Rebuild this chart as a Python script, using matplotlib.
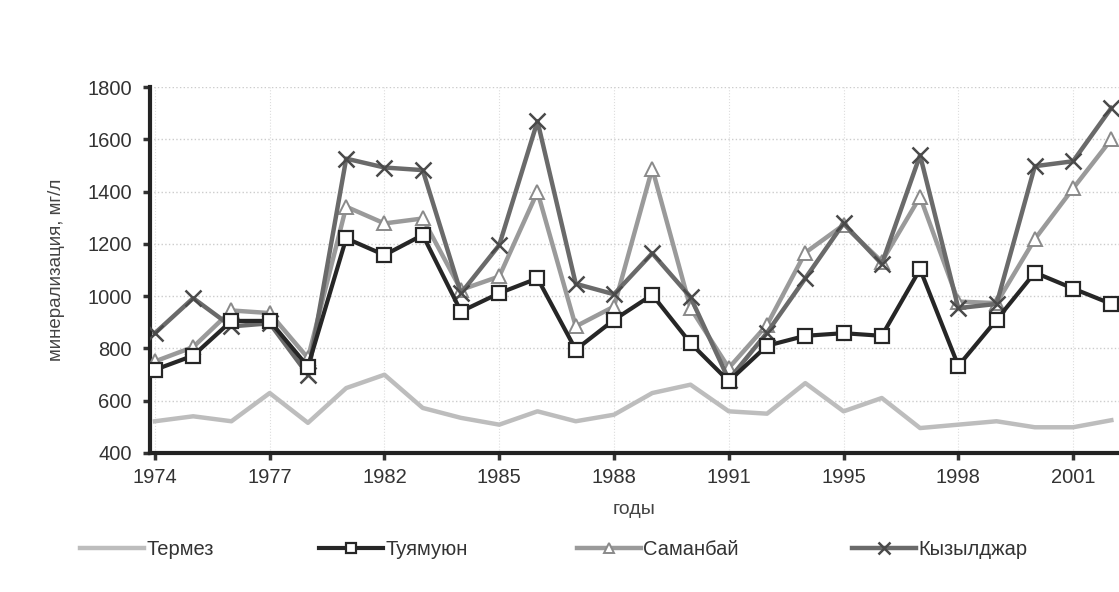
import matplotlib
matplotlib.use("Agg")
import matplotlib.pyplot as plt
import numpy as np

years = ["1974", "1975", "1976", "1977", "1978", "1980", "1982", "1983", "1984",
         "1985", "1986", "1987", "1988", "1989", "1990", "1991", "1992", "1994",
         "1995", "1996", "1997", "1998", "1999", "2000", "2001", "2002"]
shown_labels = ["1974", "1977", "1982", "1985", "1988", "1991", "1995", "1998", "2001"]

termez = [521, 540, 521, 629, 515, 648, 699, 572, 534, 508, 559, 521, 546, 629,
          661, 559, 550, 667, 559, 610, 495, 508, 521, 498, 498, 525]
tuyamuyun = [718, 772, 905, 905, 730, 1221, 1157, 1234, 941, 1011, 1068, 795, 909,
             1005, 820, 674, 810, 848, 858, 848, 1103, 733, 909, 1090, 1029, 970]
samanbay = [750, 805, 945, 935, 763, 1342, 1278, 1297, 1024, 1075, 1399, 884, 960,
            1488, 954, 725, 890, 1166, 1272, 1132, 1380, 979, 973, 1218, 1412, 1600]
kyzyldzhar = [858, 992, 884, 896, 699, 1526, 1492, 1482, 1011, 1195, 1669, 1047,
              1007, 1164, 996, 680, 860, 1068, 1278, 1123, 1539, 954, 970, 1497,
              1516, 1720]

plt.rcParams['font.family'] = ['Liberation Sans', 'DejaVu Sans']

fig = plt.figure(figsize=(11.19, 5.92), dpi=100)
ax = fig.add_axes([0.134, 0.235, 0.866, 0.618])

x = np.arange(len(years))

l1, = ax.plot(x, termez, color="#bdbdbd", lw=3.2, label="Термез", zorder=3)
l2, = ax.plot(x, tuyamuyun, color="#262626", lw=3.0, marker="s", ms=10,
              mfc="white", mec="#262626", mew=1.6, label="Туямуюн", zorder=6)
l3, = ax.plot(x, samanbay, color="#9a9a9a", lw=3.2, marker="^", ms=10,
              mfc="white", mec="#8a8a8a", mew=1.4, label="Саманбай", zorder=4)
l4, = ax.plot(x, kyzyldzhar, color="#6a6a6a", lw=3.2, marker="x", ms=12,
              mec="#4a4a4a", mew=1.8, label="Кызылджар", zorder=5)

ax.set_xlim(-0.13, 25.2)
ax.set_ylim(400, 1800)
ax.set_yticks(np.arange(400, 1801, 200))

tick_pos = [years.index(y) for y in shown_labels]
ax.set_xticks(tick_pos)
ax.set_xticklabels(shown_labels)

ax.tick_params(axis="both", labelsize=14.5, colors="#333333", width=2.5, length=5,
               direction="out")
ax.tick_params(axis="x", pad=6)
ax.tick_params(axis="y", pad=8)

for s in ["top", "right"]:
    ax.spines[s].set_visible(False)
for s in ["left", "bottom"]:
    ax.spines[s].set_linewidth(3)
    ax.spines[s].set_color("#222222")

ax.grid(axis="y", color="#cccccc", linestyle=":", linewidth=1)
ax.grid(axis="x", color="#dddddd", linestyle=":", linewidth=0.8)
ax.set_axisbelow(True)

ax.set_ylabel("минерализация, мг/л", fontsize=13.5, color="#444444", labelpad=16)
ax.set_xlabel("годы", fontsize=14, color="#444444", labelpad=10)

starts = [80, 319, 577, 852]
for h, xs in zip([l1, l2, l3, l4], starts):
    lg = fig.legend([h], [h.get_label()], loc="center left",
                    bbox_to_anchor=(xs / 1119, 0.071), frameon=False,
                    fontsize=14.5, handlelength=3.2, handletextpad=0.1,
                    borderpad=0, borderaxespad=0, markerscale=0.7)
    for t in lg.get_texts():
        t.set_color("#333333")

fig.savefig("out.png", dpi=100, facecolor="white")
